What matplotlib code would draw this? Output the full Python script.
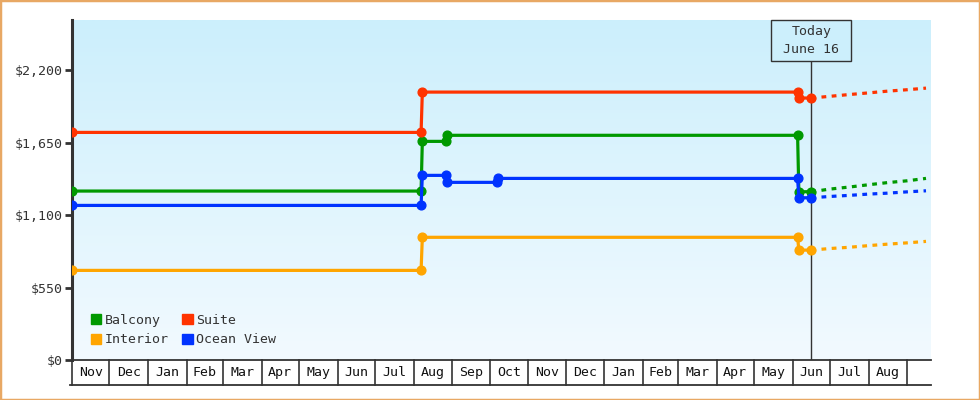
import numpy as np
import pandas as pd
import matplotlib
matplotlib.use("Agg")
import matplotlib.pyplot as plt
import matplotlib.dates as mdates
from matplotlib.patches import Rectangle, Patch
from matplotlib.colors import LinearSegmentedColormap

plt.rcParams['font.family'] = ['DejaVu Sans Mono']

# price history (date of change, price)
balcony_dates = ["2023-11-01", "2024-08-07", "2024-08-08", "2024-08-27", "2024-08-28", "2025-06-05", "2025-06-06", "2025-06-16"]
balcony_prices = [1282, 1282, 1659, 1659, 1705, 1705, 1277, 1277]

suite_dates = ["2023-11-01", "2024-08-07", "2024-08-08", "2025-06-05", "2025-06-06", "2025-06-16"]
suite_prices = [1727, 1727, 2033, 2033, 1988, 1988]

interior_dates = ["2023-11-01", "2024-08-07", "2024-08-08", "2025-06-05", "2025-06-06", "2025-06-16"]
interior_prices = [680, 680, 931, 931, 834, 834]

ocean_dates = ["2023-11-01", "2024-08-07", "2024-08-08", "2024-08-27", "2024-08-28", "2024-10-07", "2024-10-08", "2025-06-05", "2025-06-06", "2025-06-16"]
ocean_prices = [1173, 1173, 1401, 1401, 1348, 1348, 1378, 1378, 1231, 1231]

# forecast after today
forecast_dates = ["2025-06-16", "2025-07-01", "2025-07-16", "2025-08-01", "2025-08-16", "2025-09-01", "2025-09-16"]
balcony_fc = [1277, 1297, 1312, 1330, 1346, 1360, 1378]
suite_fc = [1988, 2001, 2014, 2027, 2040, 2051, 2063]
interior_fc = [834, 846, 855, 868, 879, 889, 900]
ocean_fc = [1231, 1241, 1249, 1259, 1266, 1276, 1284]

series = [
    ("Balcony", "#009900", balcony_dates, balcony_prices, balcony_fc),
    ("Suite", "#FF3300", suite_dates, suite_prices, suite_fc),
    ("Interior", "#FFA500", interior_dates, interior_prices, interior_fc),
    ("Ocean View", "#0033FF", ocean_dates, ocean_prices, ocean_fc),
]

yticks = [0, 550, 1100, 1650, 2200]
today = pd.Timestamp("2025-06-16")
x_start = pd.Timestamp("2023-11-01")
x_end = pd.Timestamp("2025-09-20")
months = pd.date_range("2023-11-01", "2025-09-01", freq="MS")

fig = plt.figure(figsize=(9.8, 4), dpi=100)
ax = fig.add_axes([72/980, 40/400, 859/980, 340/400])
axm = fig.add_axes([72/980, 15/400, 859/980, 25/400], sharex=ax)

# gradient background
grad = LinearSegmentedColormap.from_list("bg", ["#F2FAFF", "#CCEFFC"])
ax.imshow(np.linspace(0, 1, 256).reshape(-1, 1), aspect='auto', cmap=grad,
          extent=[mdates.date2num(x_start), mdates.date2num(x_end), 0, 2580],
          origin='lower', zorder=0)

for name, color, d, p, fc in series:
    ax.plot(pd.to_datetime(d), p, color=color, lw=2.3, marker='o', ms=6.3,
            solid_joinstyle='miter', zorder=3)
    ax.plot(pd.to_datetime(forecast_dates), fc, color=color, lw=2.3,
            linestyle=(0, (1.5, 1.7)), zorder=3)

ax.set_xlim(x_start, x_end)
ax.set_ylim(0, 2580)
ax.set_yticks(yticks)
ax.set_yticklabels([f"${v:,}" for v in yticks])
ax.tick_params(axis='y', length=5, width=2, color='#333333', pad=2,
               labelsize=9.5, labelcolor='#333333')
ax.tick_params(axis='x', bottom=False, labelbottom=False)
for s in ['top', 'right']:
    ax.spines[s].set_visible(False)
ax.spines['left'].set_color('#333333')
ax.spines['left'].set_linewidth(2.2)
ax.spines['bottom'].set_color('#333333')
ax.spines['bottom'].set_linewidth(1.3)

# today marker
box_bottom = (360 - 61) / 340
ax.axvline(today, ymin=0, ymax=box_bottom, color='#333333', lw=1, zorder=2)
ax.add_patch(Rectangle(((771 - 72) / 859, box_bottom), 80 / 859, 1 - box_bottom,
                       transform=ax.transAxes, fc='#CCEFFC', ec='#333333', lw=1,
                       zorder=4, clip_on=False))
ax.text(today, 2580 - 20.5 * 2580 / 340, "Today\nJune 16", ha='center', va='center',
        fontsize=9.5, color='#333333', linespacing=1.5, zorder=5)

# legend
handles = [Patch(color=c, label=n) for n, c, _, _, _ in series]
order = [0, 2, 1, 3]
ax.legend([handles[i] for i in order], [series[i][0] for i in order], ncol=2,
          loc='lower left', bbox_to_anchor=(0.022, 0.04), frameon=False,
          fontsize=9.5, handlelength=0.8, handleheight=0.8, handletextpad=0.25,
          columnspacing=1.0, labelspacing=0.5, borderpad=0, borderaxespad=0,
          labelcolor='#333333')

# month boxes
axm.set_ylim(0, 1)
axm.axis('off')
for i, m in enumerate(months):
    axm.plot([m, m], [0, 1], color='#333333', lw=1.2, clip_on=False)
    if i + 1 < len(months):
        mid = m + (months[i + 1] - m) / 2
        axm.text(mid, 0.5, m.strftime("%b"), ha='center', va='center', fontsize=9.5, color='#111111')
axm.plot([x_start - pd.Timedelta(days=1.5), x_end], [0, 0], color='#333333', lw=1.3, clip_on=False)

fig.patches.append(Rectangle((0, 0), 1, 1, transform=fig.transFigure, fill=False,
                             ec='#E8A864', lw=2.5))

fig.savefig("out.png", dpi=100)
